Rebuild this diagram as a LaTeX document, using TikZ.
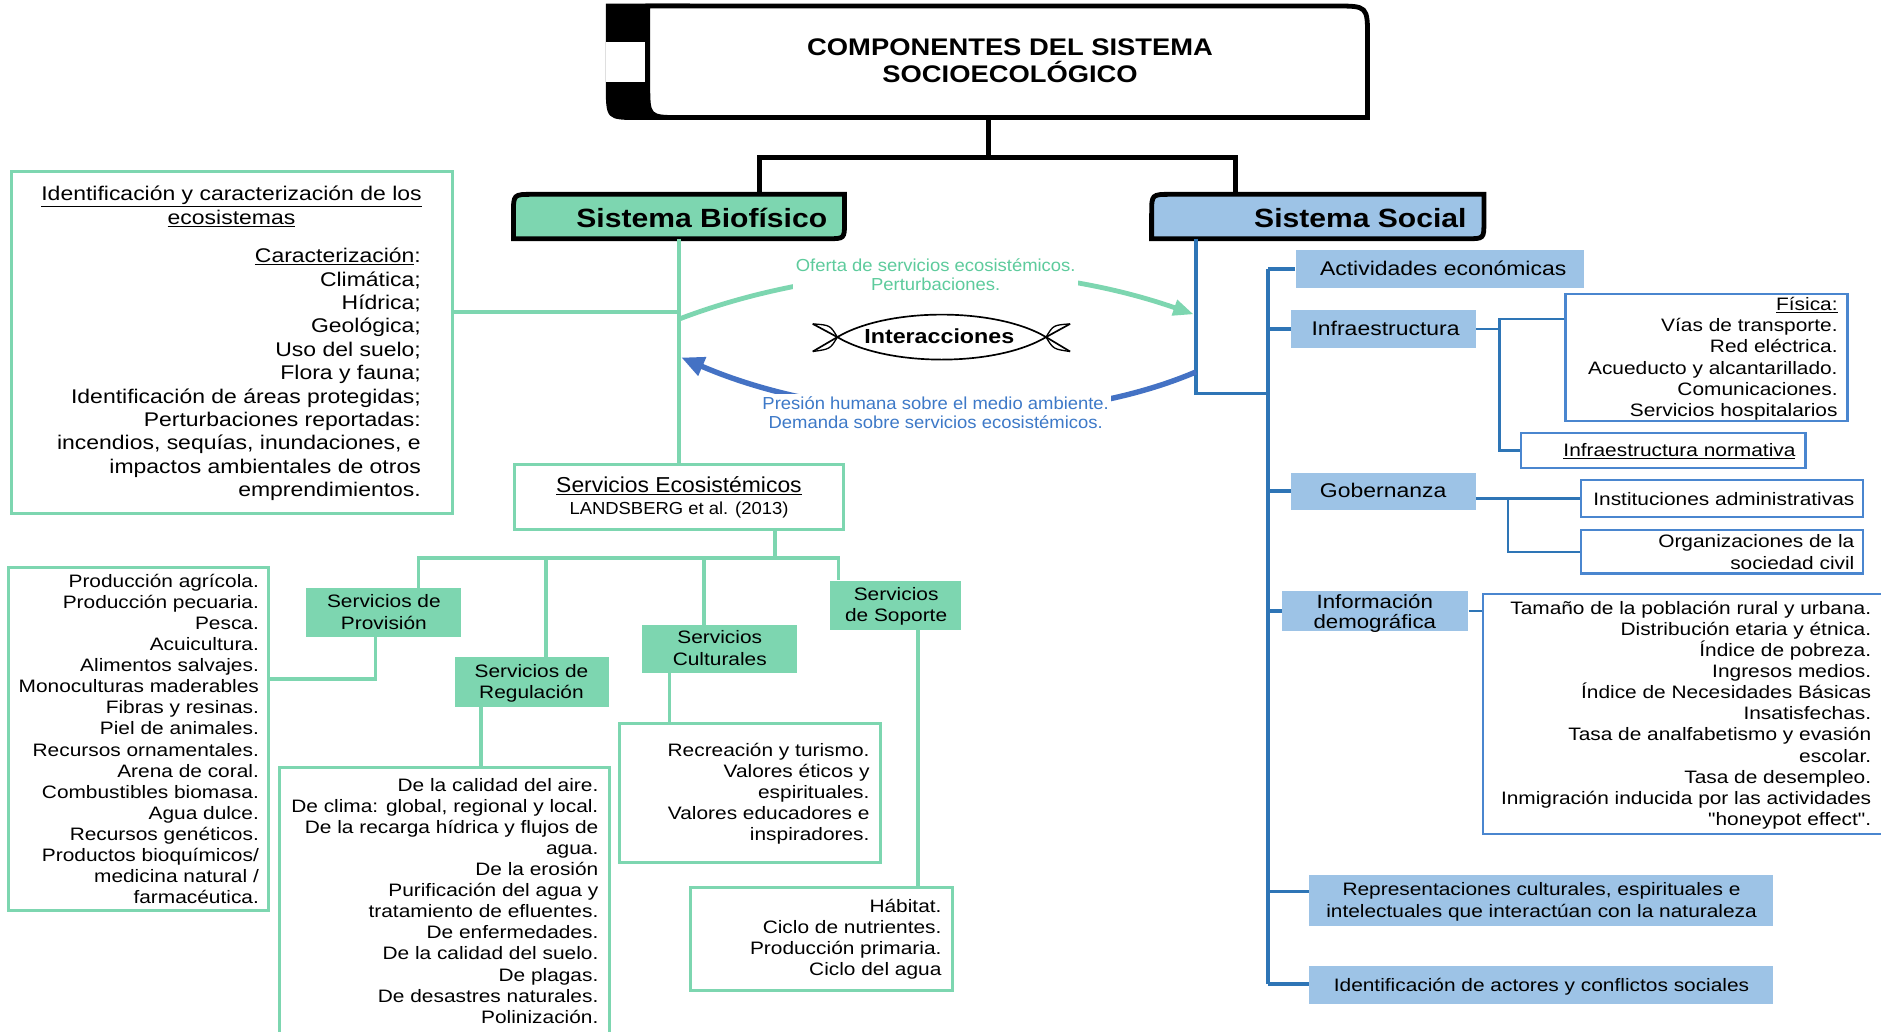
\documentclass[tikz,border=0pt]{standalone}
\usepackage{fontspec}
\setmainfont{Liberation Sans}
\newfontfamily\fwide{Liberation Sans}[FakeStretch=1.16]
\newfontfamily\fnarrow{Liberation Sans}[FakeStretch=1.06]
\newfontfamily\fhead{Liberation Sans}[FakeStretch=1.14]
\usetikzlibrary{arrows.meta,fit}

\definecolor{gcol}{HTML}{7DD6B0}
\definecolor{gdark}{HTML}{5DCB9C}
\definecolor{bfil}{HTML}{9DC3E6}
\definecolor{bcol}{HTML}{2E75B6}
\definecolor{bfrm}{HTML}{4A86CF}
\definecolor{barr}{HTML}{4472C4}
\definecolor{btxt}{HTML}{3D79C8}

% multi-line text nodes are anchored on the baseline of their last line
\tikzset{
  blk/.style={draw=black, line width=4pt},
  glink/.style={draw=gcol, line width=3pt},
  blink/.style={draw=bcol, line width=3pt},
  bsub/.style={draw=bcol, line width=2pt},
  gframe/.style={draw=gcol, line width=2.5pt, fill=white, inner sep=0pt},
  bframe/.style={draw=bfrm, line width=1.8pt, fill=white, inner sep=0pt},
  gtile/.style={fill=gcol, inner sep=0pt},
  btile/.style={fill=bfil, inner sep=0pt},
  holder/.style={inner sep=0pt, outer sep=0pt},
  rtxt/.style={inner sep=0pt, font=\fwide\fontsize{15}{17.6}\selectfont, align=right, anchor=base east},
  ctxt/.style={inner sep=0pt, font=\fwide\fontsize{15}{17.6}\selectfont, align=center, anchor=base},
  tiletxt/.style={inner sep=0pt, font=\fwide\fontsize{16.5}{19}\selectfont, align=center, anchor=base},
  hdr/.style={inner sep=0pt, font=\fhead\bfseries\fontsize{22}{26}\selectfont, anchor=base},
  flowtxt/.style={fill=white, inner sep=2pt, font=\fnarrow\fontsize{14.5}{16}\selectfont, align=center},
}

\begin{document}
\begin{tikzpicture}[x=1pt, y=-1pt]
\useasboundingbox (0,0) rectangle (1568,860);
\fill[white] (0,0) rectangle (1568,860);

% ---------- title block ----------
\fill[black] (505,3) -- (575,3) -- (575,100) -- (533,100) .. controls (505,100) .. (505,70) -- cycle;
\draw[blk, fill=white] (540,5) -- (1113,5) .. controls (1140,5) .. (1140,32) -- (1140,98) -- (568,98) .. controls (540,98) .. (540,70) -- cycle;
\fill[white] (505,35) rectangle (537.5,68);
\node[holder, minimum width=600, minimum height=93] (title) at (840,51.5) {};
\node[inner sep=0pt, font=\fhead\bfseries\fontsize{20}{23}\selectfont, align=center, anchor=base] (titletxt) at (842,69) {COMPONENTES DEL SISTEMA\\SOCIOECOLÓGICO};

% ---------- system headers ----------
\node[holder, minimum width=276, minimum height=37] (bio) at (566,180.5) {};
\node[holder, minimum width=277, minimum height=37] (soc) at (1098.5,180.5) {};
\coordinate (tj) at (824,131);
\coordinate (bioj) at (633,162);
\coordinate (socj) at (1030,162);
\draw[blk] ([xshift=-16pt]title.south) -- (tj);
\draw[blk] (bioj) |- (tj) -| (socj);

\draw[blk, fill=gcol] (428,178) .. controls (428,162) .. (444,162) -- (704,162) -- (704,185) .. controls (704,199) .. (690,199) -- (428,199) -- cycle;
\draw[blk, fill=bfil] (960,178) .. controls (960,162) .. (976,162) -- (1237,162) -- (1237,185) .. controls (1237,199) .. (1223,199) -- (960,199) -- cycle;
\node[hdr] (biotxt) at (585,190) {Sistema Biofísico};
\node[hdr] (soctxt) at (1134,190) {Sistema Social};

% ---------- biophysical branch ----------
\node[gframe, fit={(10,143) (377,428)}] (ident) {};
\node[gframe, fit={(429,387) (703,441)}] (eco) {};
\draw[glink] (bio.south) -- (eco.north);
\draw[glink] (ident.east |- 0,260) -- (bio.south |- 0,260);

\node[inner sep=0pt, font=\fwide\fontsize{16.5}{20}\selectfont, align=center, anchor=base] (identhd) at (193,187)
  {\underline{Identificación y caracterización de los}\\\underline{ecosistemas}};
\node[inner sep=0pt, font=\fwide\fontsize{16.5}{19.5}\selectfont, align=right, anchor=base east] (identtx) at (351,414)
  {\underline{Caracterización}:\\Climática;\\Hídrica;\\Geológica;\\Uso del suelo;\\Flora y fauna;\\Identificación de áreas protegidas;\\Perturbaciones reportadas:\\incendios, sequías, inundaciones, e\\impactos ambientales de otros\\emprendimientos.};

\node[inner sep=0pt, font=\fnarrow\fontsize{18}{20}\selectfont, anchor=base] (ecotx) at (566,410.5) {\underline{Servicios Ecosistémicos}};
\node[inner sep=0pt, font=\fnarrow\fontsize{14.5}{16}\selectfont, anchor=base] (ecoref) at (566,429.2) {LANDSBERG et al. (2013)};

% service categories
\node[gtile, fit={(255,490) (384,531)}] (prov) {};
\node[gtile, fit={(379,548) (508,589)}] (reg) {};
\node[gtile, fit={(535,521) (664,561)}] (cul) {};
\node[gtile, fit={(692,484) (801,525)}] (sop) {};

\node[gframe, fit={(7,473) (224,759)}] (provl) {};
\node[gframe, fit={(233,640) (508,870)}] (regl) {};
\node[gframe, fit={(516,603) (734,719)}] (cull) {};
\node[gframe, fit={(576,740) (794,826)}] (sopl) {};

\coordinate (busm) at (646,465);
\coordinate (busl) at (349,465);
\coordinate (busr) at (699,465);
\coordinate (busreg) at (455,465);
\coordinate (buscul) at (587,465);
\draw[glink] (eco.south -| busm) -- (busm);
\draw[glink] (prov.north -| busl) -- (busl) -- (busr) -- (sop.north -| busr);
\draw[glink] (busreg) -- (reg.north -| busreg);
\draw[glink] (buscul) -- (cul.north -| buscul);

\draw[glink] (prov.south -| 313,0) |- (provl.east |- 0,566);
\draw[glink] (reg.south -| 401,0) -- (regl.north -| 401,0);
\draw[glink] (cul.south -| 558,0) -- (cull.north -| 558,0);
\draw[glink] (sop.south -| 765,0) -- (sopl.north -| 765,0);

\node[ctxt] (provtx) at (320,524.4) {Servicios de\\Provisión};
\node[ctxt] (regtx) at (443,582.4) {Servicios de\\Regulación};
\node[ctxt] (cultx) at (600,554.4) {Servicios\\Culturales};
\node[ctxt] (soptx) at (747,518) {Servicios\\de Soporte};

\node[rtxt] (provltx) at (216,753.4)
  {Producción agrícola.\\Producción pecuaria.\\Pesca.\\Acuicultura.\\Alimentos salvajes.\\Monoculturas maderables\\Fibras y resinas.\\Piel de animales.\\Recursos ornamentales.\\Arena de coral.\\Combustibles biomasa.\\Agua dulce.\\Recursos genéticos.\\Productos bioquímicos/\\medicina natural /\\farmacéutica.};
\node[rtxt] (regltx) at (499,853)
  {De la calidad del aire.\\De clima: global, regional y local.\\De la recarga hídrica y flujos de\\agua.\\De la erosión\\Purificación del agua y\\tratamiento de efluentes.\\De enfermedades.\\De la calidad del suelo.\\De plagas.\\De desastres naturales.\\Polinización.};
\node[rtxt] (cultxl) at (725,701)
  {Recreación y turismo.\\Valores éticos y\\espirituales.\\Valores educadores e\\inspiradores.};
\node[rtxt] (sopltx) at (785,813.4)
  {Hábitat.\\Ciclo de nutrientes.\\Producción primaria.\\Ciclo del agua};

% ---------- social branch ----------
\node[btile, fit={(1080,208) (1320,240)}] (act) {};
\node[btile, fit={(1076,258) (1230,290)}] (inf) {};
\node[btile, fit={(1076,394) (1230,425)}] (gob) {};
\node[btile, fit={(1069,493) (1224,526)}] (dem) {};
\node[btile, fit={(1091,729) (1478,772)}] (rep) {};
\node[btile, fit={(1091,805) (1478,837)}] (actr) {};
\node[bframe, fit={(1305,245) (1540,351)}] (fis) {};
\node[bframe, fit={(1268,361) (1505,390)}] (nor) {};
\node[bframe, fit={(1318,400) (1553,431)}] (ins) {};
\node[bframe, fit={(1318,442) (1553,478)}] (org) {};
\node[bframe, fit={(1236,495) (1575,695)}] (deml) {};

\coordinate (sptop) at (1057,224);
\coordinate (spbot) at (1057,820);
\coordinate (spj) at (1057,328);
\draw[blink] (soc.south -| 997,0) |- (spj);
\draw[blink] (sptop) -- (spbot);
\draw[blink] (sptop) -- (act.west);
\draw[blink] (inf.west -| sptop) -- (inf.west);
\draw[blink] (gob.west -| sptop) -- (gob.west);
\draw[blink] (dem.west -| sptop) -- (dem.west);
\draw[blink] (sptop |- 0,743) -- (rep.west |- 0,743);
\draw[blink] (spbot) -- (actr.west |- spbot);

\draw[bsub] (inf.east) -- (1250,274);
\draw[bsub] (fis.west |- 0,266) -| (nor.west -| 1250,0) -- (nor.west);
\draw[bsub] (gob.east |- ins.west) -- (ins.west);
\draw[bsub] (1257,415.5) |- (org.west);
\draw[bsub] (dem.east) -- (deml.west |- dem.east);

\node[tiletxt] (acttx) at (1203,230) {Actividades económicas};
\node[tiletxt] (inftx) at (1155,280) {Infraestructura};
\node[tiletxt] (gobtx) at (1153,415) {Gobernanza};
\node[inner sep=0pt, font=\fwide\fontsize{16}{17}\selectfont, align=center, anchor=base] (demtx) at (1146,524) {Información\\demográfica};
\node[ctxt] (reptx) at (1285,764.4) {Representaciones culturales, espirituales e\\intelectuales que interactúan con la naturaleza};
\node[ctxt] (actrtx) at (1285,826.4) {Identificación de actores y conflictos sociales};

\node[rtxt] (fistx) at (1532,347)
  {\underline{Física:}\\Vías de transporte.\\Red eléctrica.\\Acueducto y alcantarillado.\\Comunicaciones.\\Servicios hospitalarios};
\node[ctxt] (nortx) at (1400,380.4) {\underline{Infraestructura normativa}};
\node[ctxt] (instx) at (1437,421.4) {Instituciones administrativas};
\node[rtxt] (orgtx) at (1546,474.4) {Organizaciones de la\\sociedad civil};
\node[rtxt] (demltx) at (1560,688)
  {Tamaño de la población rural y urbana.\\Distribución etaria y étnica.\\Índice de pobreza.\\Ingresos medios.\\Índice de Necesidades Básicas\\Insatisfechas.\\Tasa de analfabetismo y evasión\\escolar.\\Tasa de desempleo.\\Inmigración inducida por las actividades\\"honeypot effect".};

% ---------- interactions between both systems ----------
\coordinate (gs) at (566,266);
\coordinate (ge) at (995,262);
\coordinate (bs) at (997,310);
\coordinate (be) at (568,298);
\draw[draw=gcol, line width=4pt, -{Triangle[length=17pt,width=13pt]}] (gs) .. controls (700,215) and (860,215) .. (ge);
\draw[draw=barr, line width=4.5pt, -{Triangle[length=19pt,width=16pt]}] (bs) .. controls (880,360) and (700,355) .. (be);
\node[flowtxt, text=gdark] (oferta) at (780,229) {Oferta de servicios ecosistémicos.\\Perturbaciones.};
\node[flowtxt, text=btxt] (presion) at (780,344) {Presión humana sobre el medio ambiente.\\Demanda sobre servicios ecosistémicos.};

% banner around "Interacciones"
\draw[line width=1.4pt] (677.5,270) -- (698,281) .. controls (740,306) and (830,306) .. (872,281) -- (892,270);
\draw[line width=1.4pt] (677.5,293) -- (698,281) .. controls (740,256) and (830,256) .. (872,281) -- (892,293);
\draw[line width=1.1pt] (677.5,270) .. controls (692,271) .. (698,281) .. controls (692,291) .. (677.5,293);
\draw[line width=1.1pt] (892,270) .. controls (878,271) .. (872,281) .. controls (878,291) .. (892,293);
\node[inner sep=0pt, font=\fhead\bfseries\fontsize{17}{20}\selectfont, anchor=base] (inter) at (783,286) {Interacciones};
\end{tikzpicture}
\end{document}
